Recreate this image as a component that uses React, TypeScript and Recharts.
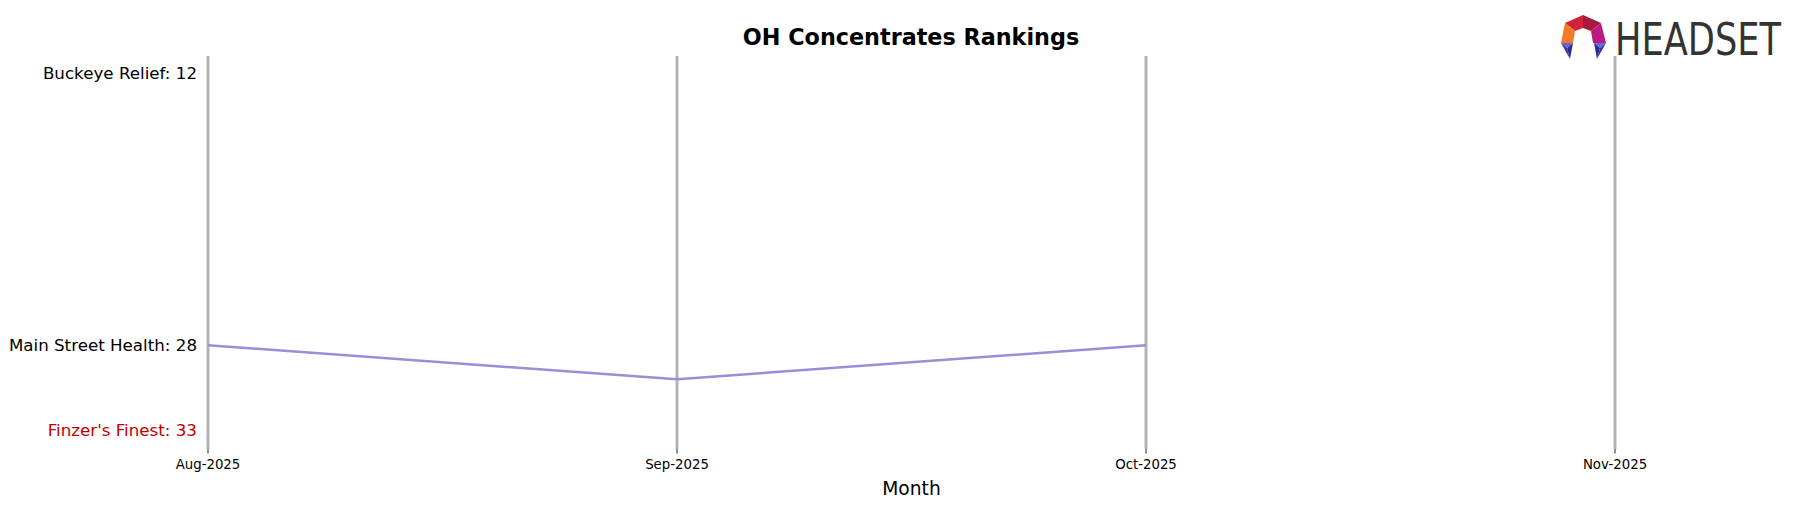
import React from 'react';
import { LineChart, Line, XAxis, YAxis, ReferenceLine } from 'recharts';

const months = ['Aug-2025', 'Sep-2025', 'Oct-2025', 'Nov-2025'];
const mainStreetHealth = [28, 30, 28, null];
const labelRanks = [12, 28, 33];
const labelBrands = ['Buckeye Relief', 'Main Street Health', "Finzer's Finest"];
const labelColors = ['#000000', '#000000', '#c00000'];

const data = months.map((m, i) => ({ month: m, mainStreet: mainStreetHealth[i] }));

const FONT = '"DejaVu Sans", sans-serif';

const YTick = (props: any) => {
  const { x, y, payload } = props;
  const idx = labelRanks.indexOf(payload.value);
  if (idx < 0) return null;
  return (
    <text x={x} y={y} dy="0.35em" textAnchor="end" fontSize={16.7} fontFamily={FONT} fill={labelColors[idx]}>
      {`${labelBrands[idx]}: ${payload.value}`}
    </text>
  );
};

const Logo = () => (
  <svg width={1797} height={507} style={{ position: 'absolute', left: 0, top: 0, pointerEvents: 'none' }}>
    <text x={911} y={45} textAnchor="middle" fontSize={22.3} fontWeight="bold" fontFamily={FONT} fill="#000">
      OH Concentrates Rankings
    </text>
    <g transform="translate(1561,15)">
      <polygon points="4,8 22,0 22,13 14,16" fill="#d3223c" />
      <polygon points="22,0 40,8 30,16 22,13" fill="#a8193f" />
      <polygon points="4,8 14,16 12,28 0,28" fill="#f37a26" />
      <polygon points="40,8 45,28 32,28 30,16" fill="#ba1b82" />
      <polygon points="0,28 12,28 6,33" fill="#6a64e2" />
      <polygon points="6,33 12,28 9,44" fill="#2c2c8e" />
      <polygon points="0,28 6,33 9,44" fill="#35359a" />
      <polygon points="45,28 33,28 39,33" fill="#6a64e2" />
      <polygon points="39,33 33,28 36,44" fill="#2c2c8e" />
      <polygon points="45,28 39,33 36,44" fill="#35359a" />
    </g>
    <g transform="translate(1615,55) scale(1,1.15)">
      <text x={0} y={0} fontSize={39} fontFamily='"DejaVu Sans Condensed", "DejaVu Sans", sans-serif' fill="#333333" textLength={166} lengthAdjust="spacingAndGlyphs">
        HEADSET
      </text>
    </g>
  </svg>
);

export default function App() {
  return (
    <div style={{ position: 'absolute', left: 0, top: 0, width: 1797, height: 507, background: '#fff', fontFamily: FONT }}>
      <LineChart width={1797} height={507} data={data} margin={{ top: 56, right: 182, bottom: 0, left: 0 }}>
        <XAxis
          dataKey="month"
          axisLine={false}
          tickLine={{ stroke: '#222', strokeWidth: 1 }}
          tickSize={4.5}
          tickMargin={6}
          height={58}
          interval={0}
          padding={{ left: 0, right: 0 }}
          tick={{ fontSize: 13.3, fill: '#000', fontFamily: FONT }}
          label={{ value: 'Month', position: 'insideBottom', offset: 12, fontSize: 18.7, fill: '#000', fontFamily: FONT }}
        />
        <YAxis
          type="number"
          domain={[11, 34.1]}
          reversed
          ticks={labelRanks}
          interval={0}
          width={208}
          axisLine={false}
          tickLine={false}
          tickSize={0}
          tickMargin={11}
          tick={<YTick />}
          allowDataOverflow
        />
        {months.map((m) => (
          <ReferenceLine key={m} x={m} stroke="#b3b3b3" strokeWidth={3} ifOverflow="visible" />
        ))}
        <Line
          type="linear"
          dataKey="mainStreet"
          stroke="#9b8ed9"
          strokeWidth={2.5}
          dot={false}
          activeDot={false}
          connectNulls={false}
          isAnimationActive={false}
        />
      </LineChart>
      <Logo />
    </div>
  );
}
